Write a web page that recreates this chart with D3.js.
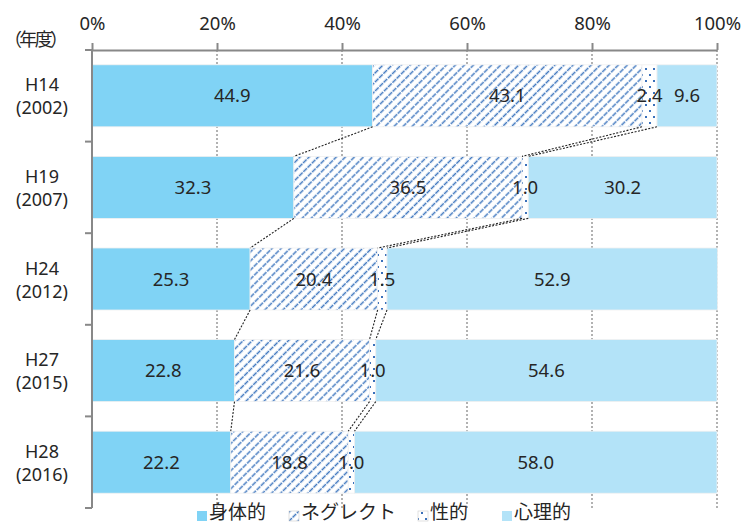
<!DOCTYPE html>
<html><head><meta charset="utf-8">
<script src="https://cdn.jsdelivr.net/npm/d3@7"></script>
<style>body{margin:0;background:#fff}svg{display:block}</style>
</head><body>
<script>
const categories = [["H14","(2002)"],["H19","(2007)"],["H24","(2012)"],["H27","(2015)"],["H28","(2016)"]];
const seriesNames = ["身体的","ネグレクト","性的","心理的"];
const physical = [44.9, 32.3, 25.3, 22.8, 22.2];
const neglect  = [43.1, 36.5, 20.4, 21.6, 18.8];
const sexual   = [2.4, 1.0, 1.5, 1.0, 1.0];
const psych    = [9.6, 30.2, 52.9, 54.6, 58.0];
const tickValues = [0, 20, 40, 60, 80, 100];
const yearUnit = "（年度）";

const W = 744, H = 524;
const svg = d3.select("body").append("svg").attr("width", W).attr("height", H);
const defs = svg.append("defs");
const hatch = defs.append("pattern").attr("id","hatch").attr("patternUnits","userSpaceOnUse")
  .attr("width",6.4).attr("height",6).attr("patternTransform","rotate(45)");
hatch.append("rect").attr("width",6.4).attr("height",6).attr("fill","#fff");
hatch.append("line").attr("x1",3.2).attr("y1",0).attr("x2",3.2).attr("y2",6)
  .attr("stroke","#4379c0").attr("stroke-width",1.5).attr("stroke-dasharray","3,1");
const dots = defs.append("pattern").attr("id","dots").attr("patternUnits","userSpaceOnUse")
  .attr("width",8).attr("height",12);
dots.append("rect").attr("width",8).attr("height",12).attr("fill","#fff");
dots.append("rect").attr("x",1).attr("y",2).attr("width",2).attr("height",2).attr("fill","#3a70ba");
dots.append("rect").attr("x",5).attr("y",8).attr("width",2).attr("height",2).attr("fill","#3a70ba");

const fills = ["#80d3f5","url(#hatch)","url(#dots)","#b3e3f8"];

const x = d3.scaleLinear().domain([0,100]).range([92,717]);
const y = d3.scaleBand().domain(categories.map(c=>c[0])).range([50,508]).paddingInner(0.323).paddingOuter(0.1615);

const font = "'Noto Sans','Noto Sans CJK JP',sans-serif";
const jfont = "'Noto Sans CJK JP',sans-serif";
const txt = "#262626";

// gridlines
svg.append("g").selectAll("line").data(tickValues.filter(v=>v>0)).join("line")
  .attr("x1",d=>x(d)).attr("x2",d=>x(d)).attr("y1",50).attr("y2",508)
  .attr("stroke","#999").attr("stroke-width",1.5).attr("stroke-dasharray","2,2");

const rows = categories.map((c,i)=>{
  const vals=[physical[i],neglect[i],sexual[i],psych[i]];
  let acc=0; const segs=vals.map((v,k)=>{const s={k,v,x0:acc,x1:acc+v,cat:c[0]};acc+=v;return s;});
  return {cat:c[0],segs};
});

// bars
const g = svg.append("g");
rows.forEach(r=>{
  g.selectAll(null).data(r.segs).join("rect")
    .attr("x",d=>x(d.x0)).attr("width",d=>x(d.x1)-x(d.x0))
    .attr("y",y(r.cat)).attr("height",y.bandwidth())
    .attr("fill",d=>fills[d.k]).attr("stroke","#f0f0f0").attr("stroke-width",0.8);
});

// series lines
for(let i=0;i<rows.length-1;i++){
  for(let k=0;k<3;k++){
    svg.append("line")
      .attr("x1",x(rows[i].segs[k].x1)).attr("y1",y(rows[i].cat)+y.bandwidth())
      .attr("x2",x(rows[i+1].segs[k].x1)).attr("y2",y(rows[i+1].cat))
      .attr("stroke","#222").attr("stroke-width",1.1).attr("stroke-dasharray","2,1.5");
  }
}

// labels
rows.forEach(r=>{
  g.selectAll(null).data(r.segs).join("text")
    .attr("x",d=>x((d.x0+d.x1)/2)).attr("y",y(r.cat)+y.bandwidth()/2)
    .attr("dy","0.36em").attr("text-anchor","middle")
    .attr("font-family",font).attr("font-size",18.5).attr("fill",txt)
    .text(d=>d.v.toFixed(1));
});

// top axis
const axTop = svg.append("g").attr("transform","translate(0,50)")
  .call(d3.axisTop(x).tickValues(tickValues).tickFormat(d=>d+"%").tickSize(7).tickSizeOuter(0).tickPadding(13));
axTop.select(".domain").attr("stroke","#888").attr("stroke-width",2);
axTop.selectAll(".tick line").attr("stroke","#888").attr("stroke-width",2);
axTop.selectAll("text").attr("font-family",font).attr("font-size",18.5).attr("fill",txt);

// left axis
svg.append("line").attr("x1",92).attr("x2",92).attr("y1",50).attr("y2",508).attr("stroke","#888").attr("stroke-width",2);
const bounds = d3.range(categories.length+1).map(i=>50+i*y.step());
svg.append("g").selectAll("line").data(bounds).join("line")
  .attr("x1",85).attr("x2",92).attr("y1",d=>d).attr("y2",d=>d).attr("stroke","#888").attr("stroke-width",2);

// category labels
categories.forEach(c=>{
  const cy = y(c[0])+y.bandwidth()/2;
  const t = svg.append("text").attr("text-anchor","middle").attr("font-family",font).attr("font-size",18).attr("fill",txt);
  t.append("tspan").attr("x",42).attr("y",cy-4.5).text(c[0]);
  t.append("tspan").attr("x",42).attr("y",cy+18.5).text(c[1]);
});
svg.append("text").attr("x",4).attr("y",46).attr("font-family",jfont).attr("font-size",18)
  .attr("textLength",64).attr("fill",txt).text(yearUnit);

// legend
const legX = [197, 289, 418, 502];
seriesNames.forEach((n,i)=>{
  svg.append("rect").attr("x",legX[i]).attr("y",511).attr("width",10).attr("height",10)
    .attr("fill",fills[i]).attr("stroke", i===1||i===2?"#ccc":"none").attr("stroke-width",0.6);
  svg.append("text").attr("x",legX[i]+12).attr("y",519).attr("font-family",jfont).attr("font-size",19).attr("fill",txt).text(n);
});
</script>
</body></html>
